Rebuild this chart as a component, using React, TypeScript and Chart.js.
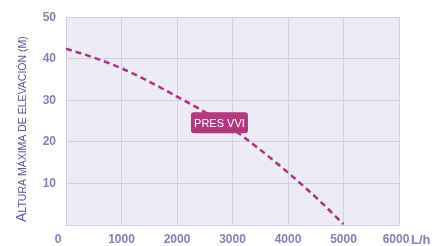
import React, { useEffect, useRef } from "react";
import { Chart, registerables } from "chart.js";

Chart.register(...registerables);

const flowLh = [0, 500, 1000, 1500, 2000, 2500, 3000, 3500, 4000, 4500, 5000];
const heightM = [42.4, 40.3, 37.7, 34.5, 30.9, 27.2, 23.1, 18.1, 12.6, 6.7, 0.2];
const xTicks = [0, 1000, 2000, 3000, 4000, 5000, 6000];
const yTicks = [10, 20, 30, 40, 50];
const seriesName = "PRES VVI";
const yTitleFirst = "A";
const yTitleRest = "LTURA MÁXIMA DE ELEVACIÓN (M)";
const xUnit = "L/h";

const FONT = "'Liberation Sans Narrow', 'Liberation Sans', Arial, sans-serif";
const TICK_COLOR = "#857fb5";
const TITLE_COLOR = "#5c5299";
const GRID = "#d2cfe4";
const BG = "#ecebf6";
const LINE = "#a8327f";

export default function App() {
  const ref = useRef<HTMLCanvasElement>(null);
  useEffect(() => {
    document.body.style.margin = "0";
    const ctx = ref.current!.getContext("2d")!;
    const plugin = {
      id: "custom",
      beforeDraw(chart: any) {
        const { ctx, chartArea: a } = chart;
        ctx.save();
        ctx.fillStyle = BG;
        ctx.fillRect(a.left, a.top, a.right - a.left, a.bottom - a.top);
        ctx.restore();
      },
      afterDraw(chart: any) {
        const { ctx, chartArea: a } = chart;
        const xs = chart.scales.x;
        ctx.save();
        ctx.font = `bold 12px ${FONT}`;
        ctx.fillStyle = TICK_COLOR;
        ctx.textAlign = "center";
        ctx.textBaseline = "middle";
        xTicks.forEach((v, i) => {
          let px = xs.getPixelForValue(v);
          if (v === 0) px -= 8;
          if (i === xTicks.length - 1) px -= 3;
          ctx.fillText(String(v), px, 240);
        });
        ctx.textAlign = "left";
        ctx.font = `bold 13px ${FONT}`;
        ctx.fillText(xUnit, a.right + 12, 240);
        // y title
        ctx.translate(21, (a.top + a.bottom) / 2 + 8);
        ctx.rotate(-Math.PI / 2);
        ctx.fillStyle = TITLE_COLOR;
        ctx.textBaseline = "alphabetic";
        ctx.font = `14px ${FONT}`;
        const w1 = ctx.measureText(yTitleFirst).width;
        ctx.font = `10.5px ${FONT}`;
        const w2 = ctx.measureText(yTitleRest).width;
        const start = -(w1 + w2) / 2;
        ctx.font = `14px ${FONT}`;
        ctx.fillText(yTitleFirst, start, 5);
        ctx.font = `10.5px ${FONT}`;
        ctx.fillText(yTitleRest, start + w1, 5);
        ctx.restore();
        // series label box
        ctx.save();
        const bx = xs.getPixelForValue(2765);
        const by = chart.scales.y.getPixelForValue(24.6);
        const bw = 57, bh = 21;
        ctx.fillStyle = "#b0387f";
        ctx.beginPath();
        (ctx as any).roundRect(bx - bw / 2, by - bh / 2, bw, bh, 3);
        ctx.fill();
        ctx.fillStyle = "#ffffff";
        ctx.font = `11px ${FONT}`;
        ctx.textAlign = "center";
        ctx.textBaseline = "middle";
        ctx.fillText(seriesName, bx, by + 1);
        ctx.restore();
      },
    };
    const chart = new Chart(ctx, {
      type: "line",
      data: {
        datasets: [
          {
            label: seriesName,
            data: flowLh.map((x, i) => ({ x, y: heightM[i] })),
            borderColor: LINE,
            borderWidth: 2.5,
            borderDash: [6, 4],
            pointRadius: 0,
            cubicInterpolationMode: "monotone",
            fill: false,
          },
        ],
      },
      options: {
        animation: false,
        responsive: false,
        layout: { padding: { left: 0, right: 43, top: 17, bottom: 0 } },
        plugins: { legend: { display: false }, tooltip: { enabled: false } },
        scales: {
          x: {
            type: "linear",
            min: 0,
            max: 6000,
            afterBuildTicks: (s: any) => {
              s.ticks = xTicks.map((v) => ({ value: v }));
            },
            afterFit: (s: any) => {
              s.height = 21;
            },
            ticks: { display: false },
            grid: { color: GRID, lineWidth: 1, drawTicks: false },
            border: { color: GRID, width: 1 },
          },
          y: {
            min: 0,
            max: 50,
            afterBuildTicks: (s: any) => {
              s.ticks = [0, ...yTicks].map((v) => ({ value: v }));
            },
            afterFit: (s: any) => {
              s.width = 66;
            },
            ticks: {
              padding: 10,
              color: TICK_COLOR,
              font: { family: FONT, size: 12, weight: "bold" },
              callback: (v: any) => (v === 0 ? "" : String(v)),
            },
            grid: { color: GRID, lineWidth: 1, drawTicks: false },
            border: { color: GRID, width: 1 },
          },
        },
      },
      plugins: [plugin],
    } as any);
    return () => chart.destroy();
  }, []);
  return <canvas ref={ref} width={442} height={246} style={{ display: "block" }} />;
}
